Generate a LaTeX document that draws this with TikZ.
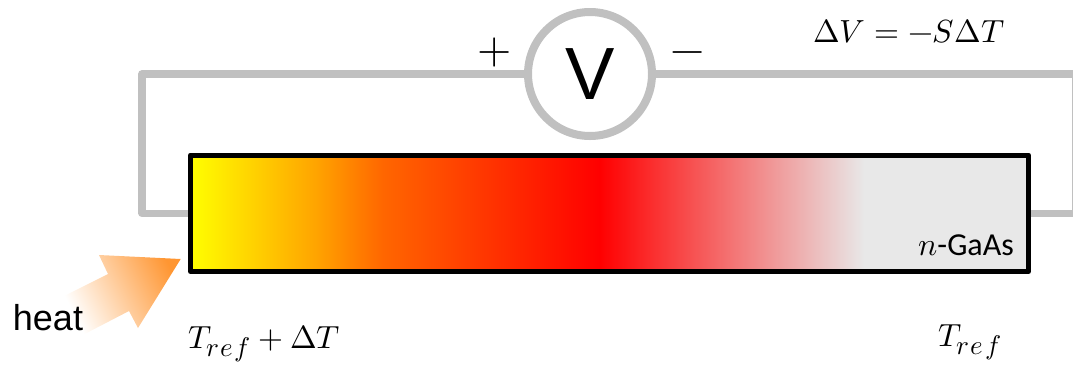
\documentclass[tikz,border=0pt]{standalone}
\usepackage{amsmath}
\usepackage{xcolor}
\usepackage{fontspec}
\usepackage{unicode-math}
\setmathfont{Latin Modern Math}
\usepackage{tikz}
\usetikzlibrary{positioning}
\newfontfamily\labelsans{Liberation Sans}
\newfontfamily\barsans{Carlito}
\DeclareMathSizes{32}{32}{27}{20}
\definecolor{wiregray}{RGB}{192,192,192}
\definecolor{barback}{RGB}{232,232,232}
\definecolor{heatorange}{RGB}{255,150,50}
\definecolor{baramber}{RGB}{255,165,0}
\definecolor{barorange}{RGB}{255,102,0}
\pgfdeclarehorizontalshading{barheat}{100bp}{
  color(0bp)=(yellow); color(25bp)=(yellow); color(32.4bp)=(baramber);
  color(36.5bp)=(barorange); color(49.4bp)=(red); color(65.2bp)=(barback);
  color(100bp)=(barback)}
\pgfdeclarehorizontalshading{heatfade}{100bp}{
  color(0bp)=(white); color(38bp)=(white); color(78bp)=(heatorange);
  color(100bp)=(heatorange)}

\begin{document}
\begin{tikzpicture}[
  x=1pt, y=-1pt,
  wire/.style={draw=wiregray, line width=7.5pt, line join=round},
  meter/.style={circle, draw=wiregray, line width=8pt, fill=white, inner sep=0pt,
                minimum size=124pt, font=\labelsans\fontsize{74}{74}\selectfont},
  sample/.style={rectangle, draw=black, line width=5pt, line join=round, shade, shading=barheat,
                 minimum width=838pt, minimum height=116.5pt, inner sep=0pt},
  eqn/.style={inner sep=0pt, anchor=base west, font=\fontsize{32}{36}\selectfont},
  sign/.style={inner sep=0pt, font=\fontsize{44}{44}\selectfont}
]
  \useasboundingbox (0,0) rectangle (1073,365);
  \clip (0,0) rectangle (1073,365);

  \node[sample] (bar) at (609.5,213.25) {};
  \node[meter] (volt) at (590,74) {V};
  \coordinate (topleft) at (142,74);
  \coordinate (botleft) at (142,213.25);
  \coordinate (topright) at (1076,74);
  \coordinate (botright) at (1076,213.25);
  \draw[wire] (volt.west) -- (topleft) -- (botleft) -- (bar.west);
  \draw[wire] (volt.east) -- (topright) -- (botright) -- (bar.east);

  \node[sign] (plus) at (495,52) {$+$};
  \node[sign] (minus) at (687.5,58) {$-$};
  \node[eqn] (seebeck) at (813,42) {$\Delta V = -S\Delta T$};
  \node[inner sep=0pt, font=\barsans\fontsize{32}{33}\selectfont, anchor=base east] (gaas) at (1014,255) {$n$-GaAs};

  % heat input
  \shade[shading=heatfade, shading angle=27]
    (50,352) -- (129,311) -- (138,328) -- (180.7,259) -- (99,255) -- (108,274) -- (28,314) -- cycle;
  \node[inner sep=0pt, font=\labelsans\fontsize{36}{36}\selectfont, anchor=base] (heat) at (48,330.5) {heat};

  \node[eqn] (hot) at (188,348) {$T_{r\mkern1mu e\mkern1mu f} + \Delta T$};
  \node[eqn] (cold) at (938,346) {$T_{r\mkern1mu e\mkern1mu f}$};
\end{tikzpicture}
\end{document}
